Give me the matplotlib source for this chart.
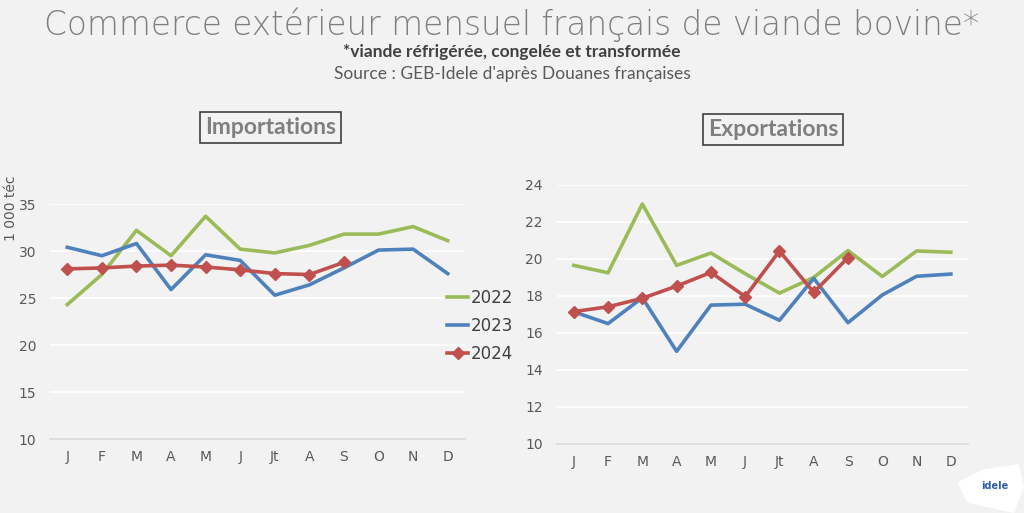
import matplotlib
matplotlib.use("Agg")
import matplotlib.pyplot as plt
from matplotlib.patches import Polygon
import matplotlib.lines as mlines

months = ["J", "F", "M", "A", "M", "J", "Jt", "A", "S", "O", "N", "D"]

imp_2022 = [24.3, 27.5, 32.2, 29.5, 33.7, 30.2, 29.8, 30.6, 31.8, 31.8, 32.6, 31.1]
imp_2023 = [30.4, 29.5, 30.8, 25.9, 29.6, 29.0, 25.3, 26.4, 28.2, 30.1, 30.2, 27.6]
imp_2024 = [28.1, 28.2, 28.4, 28.5, 28.3, 28.0, 27.6, 27.5, 28.8]

exp_2022 = [19.65, 19.25, 22.97, 19.65, 20.32, 19.2, 18.15, 19.0, 20.45, 19.05, 20.43, 20.36]
exp_2023 = [17.14, 16.5, 17.9, 15.0, 17.5, 17.55, 16.68, 18.95, 16.55, 18.05, 19.06, 19.18]
exp_2024 = [17.15, 17.41, 17.87, 18.53, 19.27, 17.96, 20.43, 18.19, 20.07]

years = ["2022", "2023", "2024"]
colors = {"2022": "#9BBB59", "2023": "#4F81BD", "2024": "#C0504D"}

BG = "#F2F2F2"
TXT = "#595959"

fig = plt.figure(figsize=(10.24, 5.13), dpi=100, facecolor=BG)

def style_axes(ax, ylim, yticks):
    ax.set_facecolor(BG)
    ax.set_xlim(-0.5, 11.5)
    ax.set_ylim(*ylim)
    ax.set_yticks(yticks)
    ax.set_xticks(range(12))
    ax.set_xticklabels(months)
    ax.grid(axis="y", color="white", linewidth=1.2)
    ax.set_axisbelow(True)
    for s in ["top", "right", "left"]:
        ax.spines[s].set_visible(False)
    ax.spines["bottom"].set_color("#D9D9D9")
    ax.spines["bottom"].set_linewidth(1.2)
    ax.tick_params(axis="both", length=0, colors=TXT, labelsize=10)
    ax.tick_params(axis="x", pad=8)
    ax.tick_params(axis="y", pad=10)

def draw(ax, d22, d23, d24):
    x = range(12)
    ax.plot(x, d22, color=colors["2022"], lw=2.6, solid_joinstyle="round", zorder=3)
    ax.plot(x, d23, color=colors["2023"], lw=2.6, solid_joinstyle="round", zorder=3)
    ax.plot(range(len(d24)), d24, color=colors["2024"], lw=2.6, marker="D",
            markersize=6, solid_joinstyle="round", zorder=4)

ax1 = fig.add_axes([0.0488, 0.1442, 0.4053, 0.4581])
style_axes(ax1, (10, 35), [10, 15, 20, 25, 30, 35])
draw(ax1, imp_2022, imp_2023, imp_2024)
ax1.set_ylabel("1 000 téc", color=TXT, fontsize=10)
ax1.yaxis.set_label_coords(-0.078, 0.98)
ax1.yaxis.label.set_verticalalignment("bottom")

ax2 = fig.add_axes([0.5436, 0.135, 0.4017, 0.5044])
style_axes(ax2, (10, 24), [10, 12, 14, 16, 18, 20, 22, 24])
draw(ax2, exp_2022, exp_2023, exp_2024)

# legend
handles = [
    mlines.Line2D([], [], color=colors["2022"], lw=2.6),
    mlines.Line2D([], [], color=colors["2023"], lw=2.6),
    mlines.Line2D([], [], color=colors["2024"], lw=2.6, marker="D", markersize=6),
]
fig.legend(handles, years, loc="center left", bbox_to_anchor=(0.437, 0.365),
           frameon=False, fontsize=12, labelcolor="#404040", handlelength=1.25,
           handletextpad=0.15, labelspacing=0.6, borderaxespad=0, borderpad=0)

# titles
fig.text(0.5, 0.952, "Commerce extérieur mensuel français de viande bovine*",
         ha="center", va="center", fontsize=23.5, color="#7F7F7F",
         family="DejaVu Sans", fontweight="light")
fig.text(0.5, 0.898, "*viande réfrigérée, congelée et transformée",
         ha="center", va="center", fontsize=12.5, color="#404040",
         family="Lato", fontweight="bold")
fig.text(0.5, 0.856, "Source : GEB-Idele d'après Douanes françaises",
         ha="center", va="center", fontsize=12.5, color=TXT, family="Lato")

bbox = dict(boxstyle="square,pad=0.22", facecolor=BG, edgecolor="#404040", linewidth=1.2)
fig.text(0.264, 0.752, "Importations", ha="center", va="center", fontsize=16.5,
         color="#7F7F7F", fontweight="bold", family="Lato", bbox=bbox)
fig.text(0.755, 0.748, "Exportations", ha="center", va="center", fontsize=16.5,
         color="#7F7F7F", fontweight="bold", family="Lato", bbox=bbox)

# logo
logo = Polygon([[0.945, 0.02], [0.99, 0.0], [1.0, 0.05], [0.995, 0.095],
                [0.96, 0.085], [0.935, 0.06]], closed=True,
               transform=fig.transFigure, facecolor="white", edgecolor="none")
fig.patches.append(logo)
fig.text(0.985, 0.052, "idele", ha="right", va="center", fontsize=7,
         color="#2E5CA8", fontweight="bold")

fig.savefig("out.png", dpi=100, facecolor=BG)
